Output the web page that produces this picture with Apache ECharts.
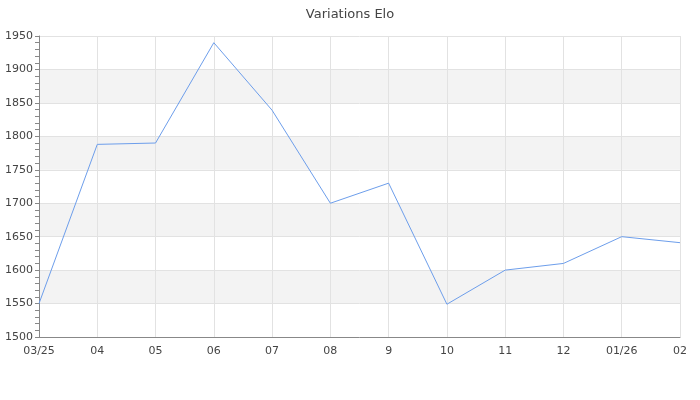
<!DOCTYPE html>
<html><head><meta charset="utf-8">
<script src="https://cdn.jsdelivr.net/npm/echarts@6/dist/echarts.min.js"></script>
<style>html,body{margin:0;padding:0;background:#fff}#c{width:700px;height:400px}</style>
</head><body><div id="c"></div>
<script>
var categories = ['03/25','04','05','06','07','08','9','10','11','12','01/26','02'];
var eloValues = [1550,1788,1790,1940,1839,1700,1730,1549,1600,1610,1650,1641];
var chart = echarts.init(document.getElementById('c'), null, {renderer:'canvas'});
chart.setOption({
  animation:false,
  backgroundColor:'#fff',
  title:{text:'Variations Elo',left:'center',top:3,textStyle:{fontFamily:'DejaVu Sans',fontSize:13,fontWeight:'normal',color:'#444'}},
  grid:{left:39,right:20,top:36,bottom:63,containLabel:false},
  xAxis:{type:'category',data:categories,boundaryGap:false,
    axisLine:{lineStyle:{color:'#888'}},axisTick:{show:false},
    axisLabel:{fontFamily:'DejaVu Sans',fontSize:11,color:'#444',margin:9,interval:0},
    splitLine:{show:true,lineStyle:{color:'#e2e2e2'}}},
  yAxis:{type:'value',min:1500,max:1950,interval:50,
    axisLine:{show:true,lineStyle:{color:'#888'}},
    axisTick:{show:true,length:4,lineStyle:{color:'#888'}},
    minorTick:{show:true,splitNumber:5,length:4,lineStyle:{color:'#888'}},
    axisLabel:{fontFamily:'DejaVu Sans',fontSize:11,color:'#444',margin:6,formatter:function(v){return String(v);}},
    splitLine:{show:true,lineStyle:{color:'#e2e2e2'}},
    splitArea:{show:true,areaStyle:{color:['rgba(255,255,255,0)','#f3f3f3']}}},
  series:[{type:'line',data:eloValues,symbol:'none',lineStyle:{color:'#6d9eeb',width:1}}]
});
</script></body></html>
